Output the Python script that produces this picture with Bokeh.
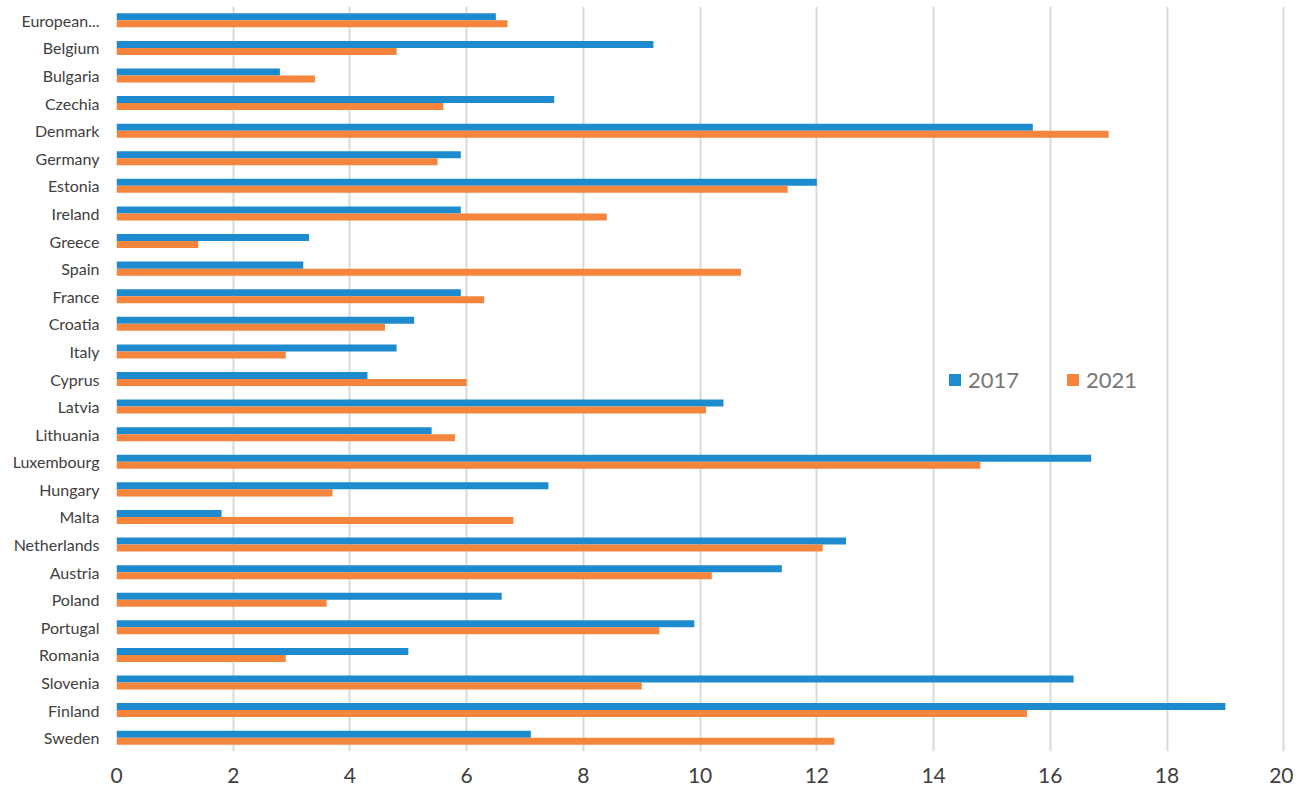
from bokeh.plotting import figure
from bokeh.models import ColumnDataSource, Range1d, FixedTicker, Legend, LegendItem
from bokeh.transform import dodge
from bokeh.embed import file_html
from bokeh.resources import INLINE

countries = ["European...", "Belgium", "Bulgaria", "Czechia", "Denmark", "Germany", "Estonia",
             "Ireland", "Greece", "Spain", "France", "Croatia", "Italy", "Cyprus", "Latvia",
             "Lithuania", "Luxembourg", "Hungary", "Malta", "Netherlands", "Austria", "Poland",
             "Portugal", "Romania", "Slovenia", "Finland", "Sweden"]
v2017 = [6.5, 9.2, 2.8, 7.5, 15.7, 5.9, 12.0, 5.9, 3.3, 3.2, 5.9, 5.1, 4.8, 4.3, 10.4,
         5.4, 16.7, 7.4, 1.8, 12.5, 11.4, 6.6, 9.9, 5.0, 16.4, 19.0, 7.1]
v2021 = [6.7, 4.8, 3.4, 5.6, 17.0, 5.5, 11.5, 8.4, 1.4, 10.7, 6.3, 4.6, 2.9, 6.0, 10.1,
         5.8, 14.8, 3.7, 6.8, 12.1, 10.2, 3.6, 9.3, 2.9, 9.0, 15.6, 12.3]
x_ticks = [0, 2, 4, 6, 8, 10, 12, 14, 16, 18, 20]

n = len(countries)
pos = [n - 1 - i for i in range(n)]  # first country at top
src = ColumnDataSource(dict(y=pos, name=countries, a=v2017, b=v2021))

FONT = "Lato"
BLUE = "#1f8bcf"
ORANGE = "#f5843d"

p = figure(frame_width=1169, frame_height=745, output_backend="svg", toolbar_location=None,
           x_range=Range1d(0, 20.03), y_range=Range1d(-0.5, 26.5),
           min_border_left=116, min_border_right=8, min_border_top=6, min_border_bottom=20)
p.outline_line_color = None
p.background_fill_color = "white"
p.border_fill_color = "white"

bh = 0.254
r1 = p.hbar(y=dodge("y", bh / 2), right="a", left=0, height=bh, source=src,
            fill_color=BLUE, line_color=None)
r2 = p.hbar(y=dodge("y", -bh / 2), right="b", left=0, height=bh, source=src,
            fill_color=ORANGE, line_color=None)

# axes
p.xaxis.ticker = FixedTicker(ticks=x_ticks)
p.xaxis.axis_line_color = None
p.xaxis.major_tick_line_color = None
p.xaxis.minor_tick_line_color = None
p.xaxis.major_label_text_font = FONT
p.xaxis.major_label_text_font_size = "21px"
p.xaxis.major_label_text_color = "#404040"
p.xaxis.major_label_standoff = 10

p.yaxis.ticker = FixedTicker(ticks=pos)
p.yaxis.major_label_overrides = {pp: c for pp, c in zip(pos, countries)}
p.yaxis.axis_line_color = None
p.yaxis.major_tick_line_color = None
p.yaxis.minor_tick_line_color = None
p.yaxis.major_label_text_font = FONT
p.yaxis.major_label_text_font_size = "16px"
p.yaxis.major_label_text_color = "#404040"
p.yaxis.major_label_standoff = 11

p.xgrid.ticker = FixedTicker(ticks=x_ticks)
p.xgrid.grid_line_color = "#d9d9d9"
p.xgrid.grid_line_width = 2
p.ygrid.grid_line_color = None

legend = Legend(items=[LegendItem(label="2017", renderers=[r1]),
                       LegendItem(label="2021", renderers=[r2])],
                orientation="horizontal", location=(831, 358),
                glyph_width=15, glyph_height=15, label_standoff=6, spacing=46,
                padding=0, margin=0, border_line_color=None, background_fill_alpha=0,
                label_text_font=FONT, label_text_font_size="22px",
                label_text_color="#767676")
p.add_layout(legend, "center")

open("out.html", "w").write(file_html(p, INLINE))
